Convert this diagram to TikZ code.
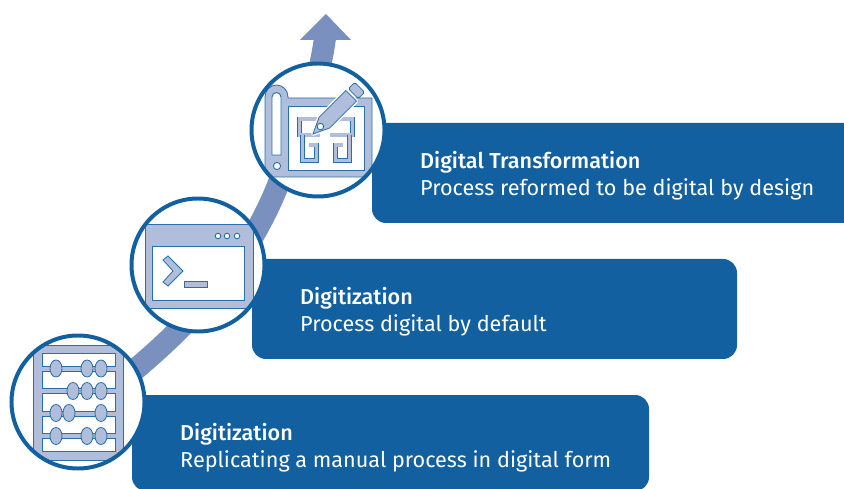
\documentclass[tikz,border=0pt]{standalone}
\usepackage{fontspec}
\setmainfont{Fira Sans}[BoldFont={Fira Sans Medium}]
\usetikzlibrary{positioning, calc}
\definecolor{panelBlue}{HTML}{12609F}
\definecolor{iconEdge}{HTML}{2A6FA9}
\definecolor{iconLite}{HTML}{B1BEDB}
\definecolor{arrowBlue}{HTML}{7A91C0}
\tikzstyle{panel}=[fill=panelBlue, rounded corners=0.42cm]
\tikzstyle{panelText}=[anchor=west, align=left, text=white, font=\fontsize{18.45}{23}\selectfont, inner sep=0pt]
\tikzstyle{ring}=[circle, fill=white, minimum size=3.98cm, inner sep=0pt]
\tikzstyle{ringLine}=[draw=panelBlue, line width=3.4pt]
\tikzstyle{iconShape}=[draw=iconEdge, fill=iconLite, line width=0.7pt]
\tikzstyle{iconHole}=[draw=iconEdge, fill=white, line width=0.8pt]
\tikzstyle{wall}=[draw=iconEdge, double=iconLite, double distance=2.8pt, line width=0.7pt]
\begin{document}
\begin{tikzpicture}[x=0.03cm, y=-0.03cm]
      \useasboundingbox (0,0) rectangle (844,489);

      % growth arrow
      \coordinate (arrowStart) at (125,378);
      \coordinate (arrowEnd) at (325,38);
      \draw[arrowBlue, line width=0.66cm] (arrowStart) ..
      controls (190,325) and (245,265) .. (276,190) ..
      controls (300,130) and (318,90) .. (arrowEnd);
      \fill[arrowBlue] (326,14) -- (351,40) -- (300,40) -- cycle;

      % panels
      \fill[panel] (132,395) rectangle (649,491);
      \fill[panel] (252,259) rectangle (737,359);
      \fill[panel] (372,123) rectangle (880,223);

      \node[panelText] (textOne) at (180,448) {\textbf{Digitization}\\Replicating a manual process in digital form};
      \node[panelText] (textTwo) at (300,312) {\textbf{Digitization}\\Process digital by default};
      \node[panelText] (textThree) at (420,176) {\textbf{Digital Transformation}\\Process reformed to be digital by design};

      % abacus
      \node[ring] (ringOne) at (78,402) {};
      \begin{scope}
        \clip (78,402) circle (65);
        \fill[iconShape] (33,345) rectangle (123,460);
      \end{scope}
      \foreach \top/\bot in {353/366, 371/388, 393/411, 416/433, 438/451}{
        \draw[iconHole] (42,\top) rectangle (115,\bot);
      }
      \foreach \bx/\by in {56/368.5, 87/368.5, 101/368.5, 73/391, 87/391, 101/391, 56/413, 69/413, 101/413, 56/436, 87/436, 101/436}{
        \draw[iconShape] (\bx,\by) ellipse (6 and 8.5);
      }
      \draw[ringLine] (ringOne) circle (66.5);

      % terminal
      \node[ring] (ringTwo) at (198,265) {};
      \begin{scope}
        \clip (198,265) circle (65);
        \fill[iconShape] (145,224) rectangle (253,308);
      \end{scope}
      \draw[iconHole] (152,246) rectangle (244,300);
      \foreach \dx in {218,227,237}{
        \draw[iconHole] (\dx,236) circle (2.8);
      }
      \draw[iconShape] (168,256) -- (183,271) -- (168,286) -- (163,282) -- (173,271) -- (163,260) -- cycle;
      \draw[iconShape] (184,281) rectangle (207,287);
      \draw[ringLine] (ringTwo) circle (66.5);

      % blueprint
      \node[ring] (ringThree) at (318,130) {};
      \begin{scope}
        \clip (318,130) circle (65);
        \fill[iconShape] (265,177) -- (265,97) arc (180:360:11.5 and 12) -- (288,98) -- (372,98) -- (372,177) -- cycle;
      \end{scope}
      \draw[iconHole] (288,106) rectangle (364,170);
      \draw[iconHole] (272,151) -- (272,97) arc (180:360:4.5) -- (281,151) -- (281,155) -- (272,155) -- cycle;
      \draw[iconHole] (277,166) circle (3.6);

      \draw[wall] (318,119) -- (299.5,119) -- (299.5,135) -- (320,135);
      \draw[wall] (302.5,135) -- (302.5,160.5) -- (316.5,160.5) -- (316.5,145) -- (309,145);
      \draw[wall] (337,119) -- (352.5,119) -- (352.5,135) -- (330,135);
      \draw[wall] (349.5,135) -- (349.5,160.5) -- (335.5,160.5) -- (335.5,145) -- (343,145);

      \begin{scope}[shift={(313,134)}, rotate=45]
        \draw[white, line width=3pt, line join=round] (0,0) -- (16,-7.5) -- (54,-7.5) -- (54,7.5) -- (16,7.5) -- cycle;
        \draw[iconShape] (0,0) -- (16,-7.5) -- (54,-7.5) -- (54,7.5) -- (16,7.5) -- cycle;
        \draw[iconShape, rounded corners=1.5pt] (57,-7) rectangle (66,7);
        \draw[iconHole] (10.5,0) circle (3.3);
      \end{scope}
      \draw[ringLine] (ringThree) circle (66.5);
\end{tikzpicture}
\end{document}
